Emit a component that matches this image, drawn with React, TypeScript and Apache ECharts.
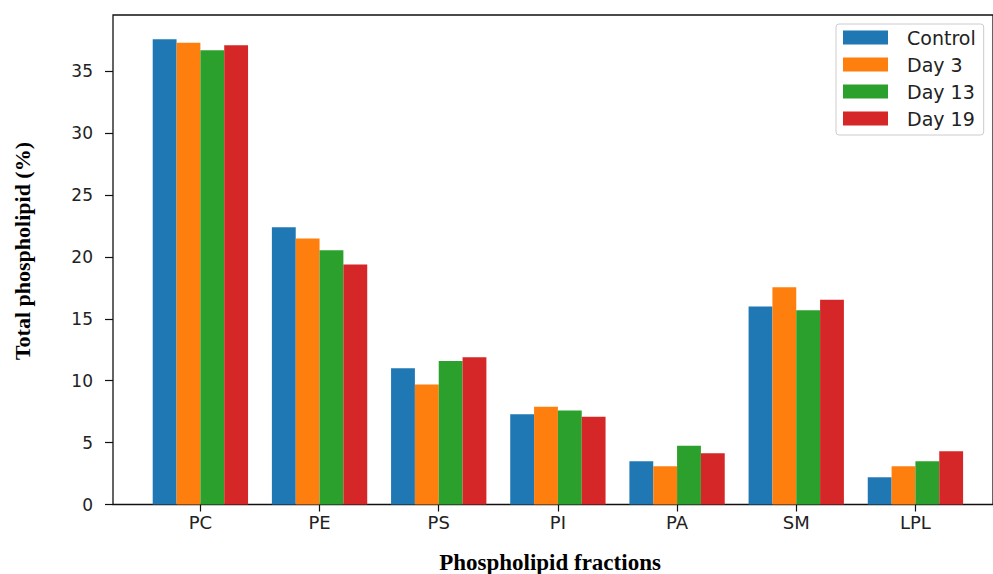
import React, { useEffect, useRef } from "react";
import * as echarts from "echarts";

const categories = ["PC", "PE", "PS", "PI", "PA", "SM", "LPL"];
const seriesNames = ["Control", "Day 3", "Day 13", "Day 19"];
const control = [37.6, 22.4, 11.0, 7.3, 3.5, 16.0, 2.2];
const day3 = [37.3, 21.5, 9.7, 7.9, 3.1, 17.55, 3.1];
const day13 = [36.7, 20.55, 11.6, 7.6, 4.75, 15.7, 3.5];
const day19 = [37.1, 19.4, 11.9, 7.1, 4.15, 16.55, 4.3];
const yTicks = [0, 5, 10, 15, 20, 25, 30, 35];
const colors = ["#1f77b4", "#ff7f0e", "#2ca02c", "#d62728"];

const Y_MAX = 39.55;

export default function App() {
  const ref = useRef<HTMLDivElement>(null);
  useEffect(() => {
    if (!ref.current) return;
    const chart = echarts.init(ref.current, undefined, { renderer: "svg" });
    const values = [control, day3, day13, day19];
    const option: any = {
      animation: false,
      backgroundColor: "#ffffff",
      grid: [
        {
          left: 113,
          top: 15,
          width: 900,
          height: 489.5,
          show: true,
          borderColor: "#111",
          borderWidth: 1.3,
          backgroundColor: "transparent",
        },
        {
          left: 140.8,
          top: 15,
          width: 834.2,
          height: 489.5,
        },
      ],
      xAxis: [
        { type: "value", gridIndex: 0, min: 0, max: 1, show: false },
        {
          type: "category",
          gridIndex: 1,
          data: categories,
          axisLine: { show: false },
          axisTick: { show: true, alignWithLabel: true, length: 7, lineStyle: { color: "#111", width: 1.2 } },
          axisLabel: { fontSize: 18, fontFamily: "DejaVu Sans", color: "#222", margin: 9 },
          splitLine: { show: false },
        },
      ],
      yAxis: [
        {
          type: "value",
          gridIndex: 0,
          min: 0,
          max: Y_MAX,
          axisLine: { show: false },
          axisTick: { show: true, length: 8, customValues: yTicks, lineStyle: { color: "#111", width: 1.2 } },
          axisLabel: {
            fontSize: 17,
            fontFamily: "DejaVu Sans",
            color: "#222",
            margin: 20,
            customValues: yTicks,
          },
          splitLine: { show: false },
        },
        { type: "value", gridIndex: 1, min: 0, max: Y_MAX, show: false },
      ],
      legend: {
        orient: "vertical",
        left: 836,
        top: 24,
        data: seriesNames,
        icon: "rect",
        itemWidth: 45,
        itemHeight: 14,
        itemGap: 8,
        padding: [4, 8, 7, 7],
        borderColor: "#cccccc",
        borderWidth: 1,
        borderRadius: 3,
        backgroundColor: "#ffffff",
        textStyle: { fontSize: 19, fontFamily: "DejaVu Sans", color: "#222", padding: [0, 0, 0, 14] },
      },
      series: seriesNames.map((name, i) => ({
        name,
        type: "bar",
        xAxisIndex: 1,
        yAxisIndex: 1,
        data: values[i],
        barWidth: "20%",
        barGap: "0%",
        itemStyle: { color: colors[i] },
      })),
      graphic: [
        {
          type: "text",
          x: 22,
          y: 251,
          rotation: Math.PI / 2,
          style: {
            text: "Total phospholipid (%)",
            font: "bold 22px 'Liberation Serif', 'Times New Roman', serif",
            fill: "#000",
            textAlign: "center",
            textVerticalAlign: "middle",
          },
        },
        {
          type: "text",
          x: 550,
          y: 562,
          style: {
            text: "Phospholipid fractions",
            font: "bold 23px 'Liberation Serif', 'Times New Roman', serif",
            fill: "#000",
            textAlign: "center",
            textVerticalAlign: "middle",
          },
        },
      ],
    };
    chart.setOption(option);
    return () => chart.dispose();
  }, []);
  return (
    <div
      ref={ref}
      style={{ position: "fixed", left: 0, top: 0, width: 993, height: 574, background: "#fff" }}
    />
  );
}
